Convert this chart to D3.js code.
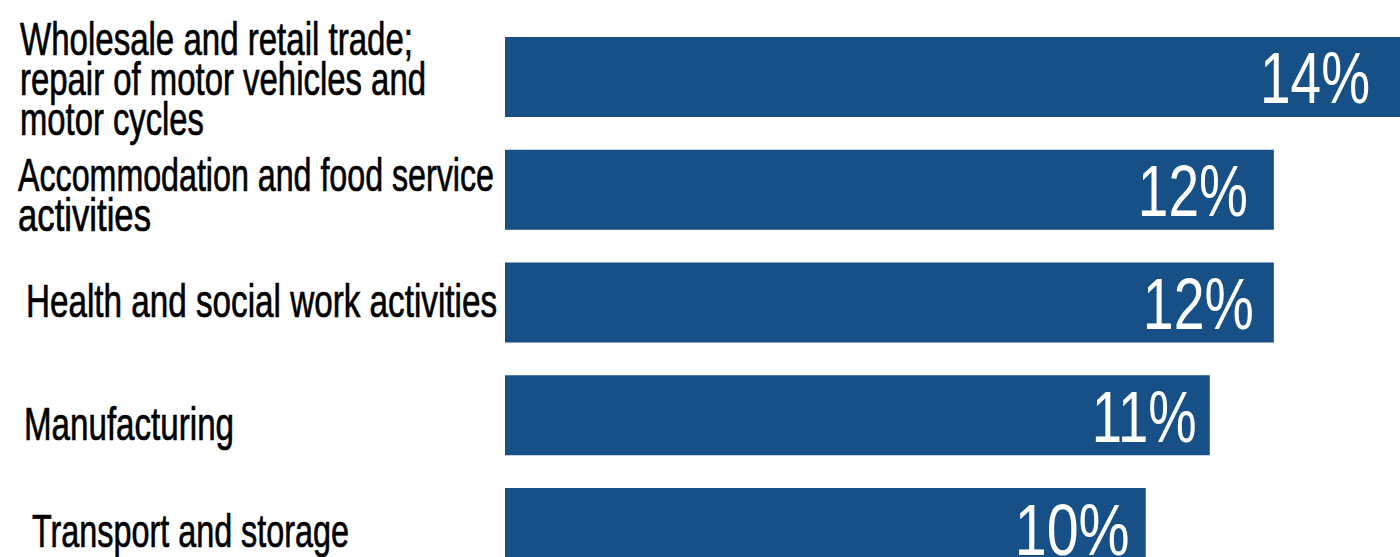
<!DOCTYPE html>
<html>
<head>
<meta charset="utf-8">
<script src="https://cdn.jsdelivr.net/npm/d3@7"></script>
<style>
  html, body { margin: 0; padding: 0; background: #ffffff; }
  svg { display: block; }
</style>
</head>
<body>
<svg id="chart" width="1400" height="557"></svg>
<script>
// ---- data ----
const categories = [
  "Wholesale and retail trade;\nrepair of motor vehicles and\nmotor cycles",
  "Accommodation and food service\nactivities",
  "Health and social work activities",
  "Manufacturing",
  "Transport and storage"
];
const values = [14, 12, 12, 11, 10];
const valueLabels = ["14%", "12%", "12%", "11%", "10%"];

// ---- layout (presentation only) ----
const barColor = "#165086";
const catLabelX = [20, 18, 26, 24, 32];          // left edge of each category label
const catLabelDy = [18, 21, 14, 25, 19];          // baseline of label block centre vs bar centre
const catLineHeight = 40;
const catLineWidths = [[393, 406, 184], [476, 133], [471], [210], [317]]; // rendered widths (narrow face)
const valueRightGap = [32, 26, 20, 13, 16];       // gap between value text end and bar end
const valueWidths = [110, 110, 111, 105, 115];

const svg = d3.select("#chart");

const y = d3.scaleBand()
  .domain(categories)
  .range([37, 568])
  .paddingInner(0.2905)
  .paddingOuter(0);

const x = d3.scaleLinear()
  .domain([0, 14])
  .range([505, 1402]);

const data = categories.map((c, i) => ({ c, v: values[i], lab: valueLabels[i], i }));

// bars
svg.append("g").selectAll("rect")
  .data(data)
  .join("rect")
  .attr("x", x(0))
  .attr("y", d => y(d.c))
  .attr("width", d => x(d.v) - x(0))
  .attr("height", y.bandwidth())
  .attr("fill", barColor);

// category labels
const font = "Liberation Sans, Arial, sans-serif";
const catG = svg.append("g");
data.forEach(d => {
  const lines = d.c.split("\n");
  const cy = y(d.c) + y.bandwidth() / 2 + catLabelDy[d.i];
  const y0 = cy - (lines.length - 1) / 2 * catLineHeight;
  lines.forEach((ln, k) => {
    catG.append("text")
      .attr("x", catLabelX[d.i])
      .attr("y", y0 + k * catLineHeight)
      .attr("font-family", font)
      .attr("font-size", 46)
      .attr("fill", "#000000")
      .attr("stroke", "#000000")
      .attr("stroke-width", 0.7)
      .attr("textLength", catLineWidths[d.i][k])
      .attr("lengthAdjust", "spacingAndGlyphs")
      .text(ln);
  });
});

// value labels
svg.append("g").selectAll("text")
  .data(data)
  .join("text")
  .attr("x", d => x(d.v) - valueRightGap[d.i] - valueWidths[d.i])
  .attr("y", d => y(d.c) + y.bandwidth() / 2 + 26.5)
  .attr("font-family", font)
  .attr("font-size", 73)
  .attr("fill", "#ffffff")
  .attr("textLength", d => valueWidths[d.i])
  .attr("lengthAdjust", "spacingAndGlyphs")
  .text(d => d.lab);
</script>
</body>
</html>
